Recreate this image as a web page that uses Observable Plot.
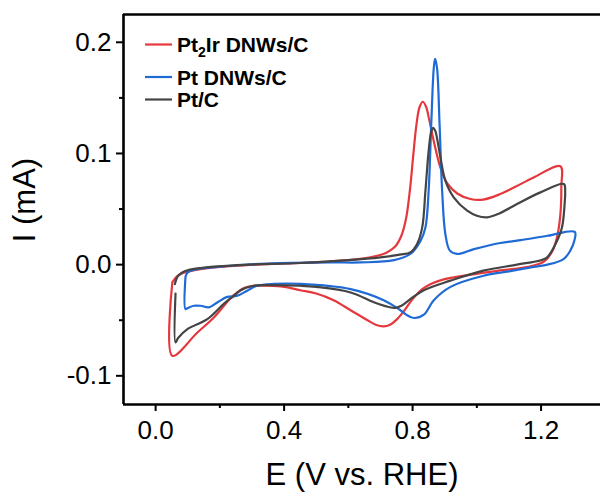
<!DOCTYPE html>
<html>
<head>
<meta charset="utf-8">
<script src="https://cdn.jsdelivr.net/npm/d3@7"></script>
<script src="https://cdn.jsdelivr.net/npm/@observablehq/plot@0.6"></script>
<style>
  html, body { margin: 0; padding: 0; background: #fff; }
  #chart { width: 600px; height: 495px; overflow: hidden; }
  svg { font-family: Arial, "Liberation Sans", sans-serif; }
</style>
</head>
<body>
<div id="chart"></div>
<script>
// ---- series ----
const seriesNames = ["Pt2Ir DNWs/C", "Pt DNWs/C", "Pt/C"];
const seriesColors = ["#e5383d", "#1f6bd6", "#444444"];

// Pt2Ir DNWs/C (red)
const pt2irE = [0.052,0.065,0.085,0.14,0.243,0.35,0.45,0.55,0.63,0.69,0.72,0.745,0.765,0.78,0.792,0.802,0.812,0.822,0.832,0.842,0.852,0.866,0.887,0.908,0.939,0.98,1.02,1.073,1.12,1.177,1.26,
  1.263,1.26,1.25,1.235,1.21,1.16,1.08,0.98,0.90,0.86,0.83,0.80,0.775,0.752,0.73,0.71,0.685,0.66,0.607,0.554,0.50,0.451,0.40,0.347,0.305,0.275,0.25,0.233,0.21,0.18,0.13,0.052,0.052];
const pt2irI = [-0.016,-0.011,-0.0075,-0.004,-0.0012,0.0005,0.0015,0.003,0.005,0.008,0.011,0.016,0.026,0.042,0.068,0.098,0.126,0.142,0.1465,0.142,0.130,0.111,0.087,0.073,0.064,0.059,0.0585,0.0635,0.070,0.0784,0.0885,
  0.07,0.045,0.025,0.012,0.003,-0.002,-0.005,-0.009,-0.013,-0.017,-0.022,-0.031,-0.041,-0.049,-0.054,-0.0555,-0.054,-0.050,-0.041,-0.032,-0.026,-0.023,-0.020,-0.019,-0.019,-0.021,-0.026,-0.030,-0.038,-0.048,-0.061,-0.082,-0.016];

// Pt DNWs/C (blue)
const ptDnwE = [0.093,0.10,0.13,0.233,0.35,0.545,0.638,0.742,0.793,0.825,0.84,0.85,0.858,0.866,0.870,0.876,0.884,0.892,0.902,0.916,0.939,0.991,1.073,1.136,1.22,1.305,
  1.303,1.291,1.27,1.22,1.177,1.1,1.021,0.918,0.866,0.835,0.804,0.78,0.762,0.71,0.607,0.451,0.368,0.316,0.285,0.254,0.223,0.192,0.166,0.14,0.119,0.10,0.093,0.093];
const ptDnwI = [-0.011,-0.007,-0.004,-0.001,0.001,0.002,0.002,0.004,0.0096,0.0216,0.0335,0.0665,0.126,0.177,0.185,0.177,0.126,0.0665,0.0276,0.0126,0.0096,0.014,0.0195,0.022,0.026,0.0295,
  0.021,0.0126,0.005,0.000,-0.002,-0.006,-0.010,-0.020,-0.032,-0.045,-0.048,-0.045,-0.041,-0.032,-0.022,-0.0173,-0.0173,-0.019,-0.0234,-0.028,-0.029,-0.034,-0.0384,-0.037,-0.037,-0.039,-0.040,-0.011];

// Pt/C (dark grey); NaN marks the small break in the trace
const ptcE = [0.060,0.07,0.09,0.14,0.25,0.45,0.60,0.70,0.76,0.793,0.814,0.83,0.84,0.85,0.857,0.864,0.871,0.876,0.887,0.902,0.928,0.97,1.0,1.032,1.07,1.125,1.198,1.271,
  1.275,1.274,1.265,1.245,1.219,1.20,1.125,1.02,0.918,0.835,0.793,0.765,0.745,0.69,0.607,0.50,0.451,0.35,0.305,0.265,0.24,0.213,0.161,0.099,0.07,0.062,0.062,NaN];
const ptcI = [-0.0175,-0.010,-0.006,-0.003,-0.0005,0.0015,0.004,0.0065,0.009,0.011,0.0186,0.0335,0.0665,0.1024,0.118,0.123,0.120,0.114,0.096,0.0755,0.0605,0.0485,0.044,0.0425,0.046,0.0545,0.065,0.0725,
  0.065,0.0575,0.0335,0.0186,0.0066,0.004,0.000,-0.0054,-0.0144,-0.023,-0.031,-0.037,-0.039,-0.035,-0.025,-0.020,-0.019,-0.0185,-0.019,-0.023,-0.029,-0.035,-0.049,-0.058,-0.066,-0.070,-0.026,NaN];

// ---- axes ----
const xTicks = [0.0, 0.4, 0.8, 1.2];
const xTickLabels = ["0.0", "0.4", "0.8", "1.2"];
const xMinorTicks = [0.2, 0.6, 1.0];
const yTicks = [-0.1, 0.0, 0.1, 0.2];
const yTickLabels = ["-0.1", "0.0", "0.1", "0.2"];
const yMinorTicks = [-0.05, 0.05, 0.15];
const xDomain = [-0.1, 1.385];
const yDomain = [-0.1258, 0.225];
const xTitle = "E (V vs. RHE)";
const yTitle = "I (mA)";

// ---- build table ----
const seriesE = [pt2irE, ptDnwE, ptcE];
const seriesI = [pt2irI, ptDnwI, ptcI];
const rows = [];
seriesNames.forEach((name, s) => {
  seriesE[s].forEach((e, k) => rows.push({series: name, E: e, I: seriesI[s][k]}));
});

const FONT = 'Arial, "Liberation Sans", sans-serif';
const chart = Plot.plot({
  width: 600,
  height: 495,
  marginLeft: 123,
  marginRight: 0,
  marginTop: 14,
  marginBottom: 91,
  style: {fontFamily: FONT, background: "#fff", color: "#000"},
  x: {domain: xDomain, axis: null},
  y: {domain: yDomain, axis: null},
  color: {domain: seriesNames, range: seriesColors},
  marks: [
    Plot.line(rows, {x: "E", y: "I", z: "series", stroke: "series", strokeWidth: 2.2, curve: "catmull-rom"}),
    Plot.ruleY([yDomain[1]], {stroke: "#000", strokeWidth: 2.6}),
    Plot.ruleY([yDomain[0]], {stroke: "#000", strokeWidth: 2.6}),
    Plot.ruleX([xDomain[0]], {stroke: "#000", strokeWidth: 2.6}),
    Plot.axisX(xTicks, {anchor: "bottom", tickSize: 7, tickPadding: 9, strokeWidth: 2, fontSize: 26,
      tickFormat: d => xTickLabels[xTicks.indexOf(d)], label: null}),
    Plot.axisX(xMinorTicks, {anchor: "bottom", tickSize: 4, strokeWidth: 2, tickFormat: () => "", label: null}),
    Plot.axisY(yTicks, {anchor: "left", tickSize: 7, tickPadding: 5, strokeWidth: 2, fontSize: 26,
      tickFormat: d => yTickLabels[yTicks.indexOf(d)], label: null}),
    Plot.axisY(yMinorTicks, {anchor: "left", tickSize: 4, strokeWidth: 2, tickFormat: () => "", label: null})
  ]
});
document.getElementById("chart").appendChild(chart);

// ---- titles and legend ----
const svg = d3.select(chart);
svg.append("text").attr("x", 362).attr("y", 485).attr("text-anchor", "middle")
  .attr("font-size", 31).attr("font-family", FONT).attr("fill", "#000").text(xTitle);
svg.append("text").attr("transform", "translate(35,200) rotate(-90)").attr("text-anchor", "middle")
  .attr("font-size", 31).attr("font-family", FONT).attr("fill", "#000").text(yTitle);

const legendY = [44.5, 77, 99.5];
const lg = svg.append("g").attr("font-family", FONT).attr("font-weight", "bold").attr("font-size", 21)
  .attr("text-anchor", "start");
seriesNames.forEach((name, i) => {
  lg.append("line").attr("x1", 145).attr("x2", 172).attr("y1", legendY[i]).attr("y2", legendY[i])
    .attr("stroke", seriesColors[i]).attr("stroke-width", 2.2);
  const t = lg.append("text").attr("x", 177).attr("y", legendY[i] + 7.5).attr("fill", "#000")
    .attr("text-anchor", "start");
  const m = name.match(/^(Pt)(2)(Ir.*)$/);
  if (m) {
    t.append("tspan").text(m[1]);
    t.append("tspan").attr("dy", 5).attr("font-size", 14).text(m[2]);
    t.append("tspan").attr("dy", -5).text(m[3]);
  } else {
    t.text(name);
  }
});
</script>
</body>
</html>
